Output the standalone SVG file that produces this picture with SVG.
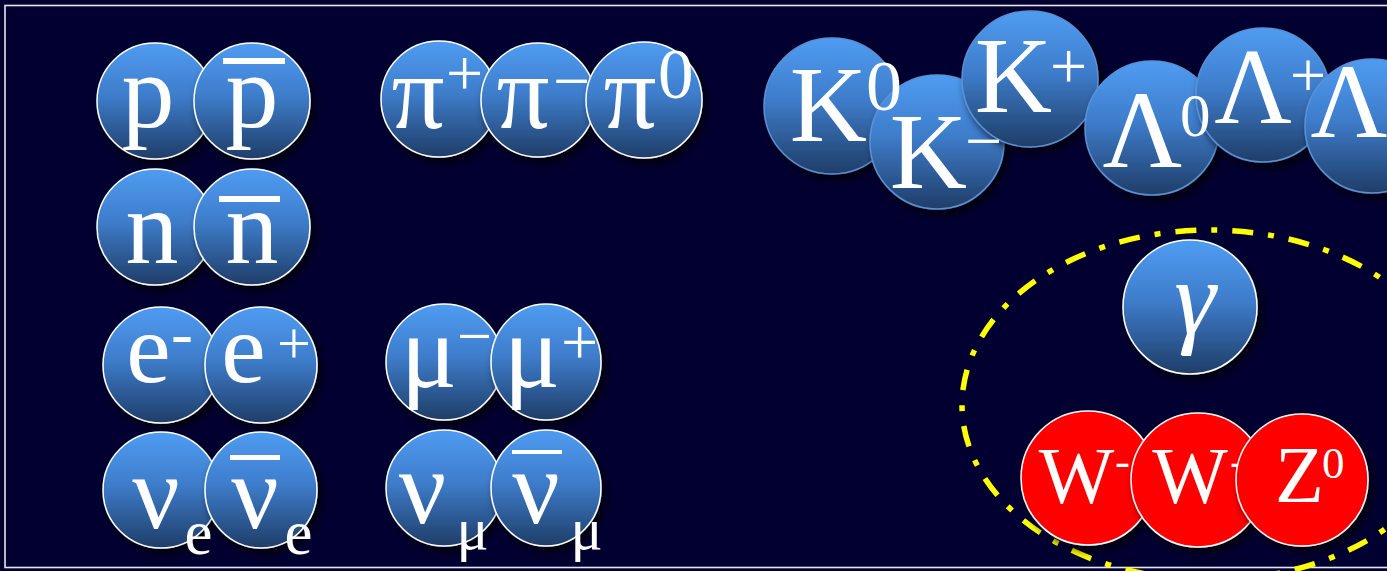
<svg xmlns="http://www.w3.org/2000/svg" width="1387" height="571" viewBox="0 0 1387 571">
<defs>
<linearGradient id="blue" x1="0" y1="0" x2="0" y2="1">
<stop offset="0" stop-color="#4f9cf2"/>
<stop offset="0.45" stop-color="#3e7dcb"/>
<stop offset="1" stop-color="#1f3d68"/>
</linearGradient>
<filter id="shadow" x="-20%" y="-20%" width="150%" height="150%">
<feGaussianBlur in="SourceAlpha" stdDeviation="4"/>
<feOffset dx="4" dy="5" result="b"/>
<feFlood flood-color="#000" flood-opacity="0.75"/>
<feComposite in2="b" operator="in"/>
<feMerge><feMergeNode/><feMergeNode in="SourceGraphic"/></feMerge>
</filter>
</defs>
<style>
.ball{fill:url(#blue);stroke:#fff;stroke-width:1.5;filter:url(#shadow)}
.ballk{fill:url(#blue);stroke:#5b91d4;stroke-width:1.5;filter:url(#shadow)}
.red{fill:#ff0000;stroke:#fff;stroke-width:1.5;filter:url(#shadow)}
text{font-family:"Liberation Serif","Times New Roman",serif;fill:#fff}
.m{text-anchor:middle}
.bar{fill:#fff}
</style>
<rect x="0" y="0" width="1387" height="571" fill="#020030"/>
<rect x="5" y="5.5" width="1400" height="562" fill="none" stroke="#e6e6ee" stroke-width="1.6"/>
<g id="connectors"/>
<g id="baryons">
<g id="p"><circle class="ball" cx="155" cy="101" r="58"/><text class="m" x="148" y="127" font-size="106">p</text></g>
<g id="pbar"><circle class="ball" cx="252" cy="101" r="58"/><text class="m" x="252" y="127" font-size="106">p</text><rect class="bar" x="223" y="58" width="62" height="6"/></g>
<g id="n"><circle class="ball" cx="155" cy="227" r="58"/><text class="m" x="152" y="263" font-size="106">n</text></g>
<g id="nbar"><circle class="ball" cx="252" cy="227" r="58"/><text class="m" x="252" y="263" font-size="106">n</text><rect class="bar" x="219" y="196" width="61" height="6"/></g>
</g>
<g id="pions">
<g id="pi-plus"><circle class="ball" cx="439" cy="99" r="58"/><text class="m" x="418" y="128" font-size="105">π</text><text x="446" y="95" font-size="66">+</text></g>
<g id="pi-minus"><circle class="ball" cx="538" cy="100" r="57"/><text class="m" x="523" y="128" font-size="105">π</text><text x="553" y="103" font-size="66">−</text></g>
<g id="pi-zero"><circle class="ball" cx="644" cy="100" r="58"/><text class="m" x="630" y="128" font-size="105">π</text><text x="658" y="98" font-size="71">0</text></g>
</g>
<g id="strange">
<g id="K-zero"><circle class="ballk" cx="832" cy="106" r="68"/></g>
<g id="K-minus"><circle class="ballk" cx="937" cy="142" r="67"/></g>
<g id="K-plus"><circle class="ballk" cx="1030" cy="79" r="68"/></g>
<g id="Lambda-zero"><circle class="ballk" cx="1152" cy="128" r="67"/></g>
<g id="Lambda-plus"><circle class="ballk" cx="1263" cy="95" r="67"/></g>
<g id="Lambda"><circle class="ballk" cx="1372" cy="126" r="67"/></g>
</g>
<g id="strange-labels">
<g id="K-zero-label"><text class="m" x="828.5" y="141" font-size="107">K</text><text x="866" y="110" font-size="72">0</text></g>
<g id="K-minus-label"><text class="m" x="928.5" y="188" font-size="107">K</text><text x="965" y="163" font-size="66">−</text></g>
<g id="K-plus-label"><text class="m" x="1013.5" y="112" font-size="107">K</text><text x="1050" y="88" font-size="66">+</text></g>
<g id="Lambda-zero-label"><text class="m" x="1142.5" y="167" font-size="110">Λ</text><text x="1180" y="136" font-size="61">0</text></g>
<g id="Lambda-plus-label"><text class="m" x="1253" y="123" font-size="107">Λ</text><text x="1290" y="97" font-size="64">+</text></g>
<g id="Lambda-label"><text class="m" x="1349" y="137" font-size="106">Λ</text></g>
</g>
<g id="bosons">
<ellipse cx="1210" cy="405" rx="248" ry="175" fill="none" stroke="#ffff00" stroke-width="5.5" stroke-dasharray="21 15 6 15"/>
<g id="gamma"><circle class="ball" cx="1190" cy="307" r="67"/><text class="m" x="1195" y="333" font-size="105" font-style="italic">γ</text></g>
<g id="W-1"><circle class="red" cx="1088" cy="478" r="67"/><text class="m" x="1076.5" y="503" font-size="80">W</text><text x="1115" y="476" font-size="45">-</text></g>
<g id="W-2"><circle class="red" cx="1198" cy="480" r="67"/><text class="m" x="1190" y="503" font-size="80">W</text><text x="1230" y="476" font-size="45">-</text></g>
<g id="Z-zero"><circle class="red" cx="1302" cy="480" r="66"/><text class="m" x="1299.5" y="502" font-size="80">Z</text><text x="1322" y="478" font-size="45">0</text></g>
</g>
<g id="leptons">
<g id="e-minus"><circle class="ball" cx="161" cy="365" r="58"/><text class="m" x="148.5" y="382" font-size="100">e</text><text x="171" y="355" font-size="66">-</text></g>
<g id="e-plus"><ellipse class="ball" cx="261" cy="365" rx="56" ry="58"/><text class="m" x="243.5" y="382" font-size="100">e</text><text x="277" y="363" font-size="60">+</text></g>
<g id="nu-e"><circle class="ball" cx="161" cy="490" r="58"/><text class="m" x="156" y="528" font-size="105">ν</text><text class="m" x="198.5" y="554" font-size="63">e</text></g>
<g id="nu-e-bar"><ellipse class="ball" cx="261" cy="490" rx="56" ry="58"/><text class="m" x="255" y="528" font-size="105">ν</text><rect class="bar" x="230" y="455" width="50" height="5"/><text class="m" x="298.5" y="554" font-size="63">e</text></g>
<g id="mu-minus"><circle class="ball" cx="444" cy="362" r="58"/><text class="m" x="429" y="387" font-size="105">μ</text><text x="457" y="357" font-size="62">−</text></g>
<g id="mu-plus"><ellipse class="ball" cx="546" cy="362" rx="55" ry="58"/><text class="m" x="532" y="387" font-size="105">μ</text><text x="561" y="364" font-size="66">+</text></g>
<g id="nu-mu"><circle class="ball" cx="444" cy="488" r="58"/><text class="m" x="422.5" y="523" font-size="105">ν</text><text class="m" x="472.5" y="549" font-size="60">μ</text></g>
<g id="nu-mu-bar"><ellipse class="ball" cx="546" cy="488" rx="55" ry="58"/><text class="m" x="536" y="523" font-size="105">ν</text><rect class="bar" x="512" y="450" width="50" height="4"/><text class="m" x="586.5" y="549" font-size="60">μ</text></g>
</g>
</svg>
